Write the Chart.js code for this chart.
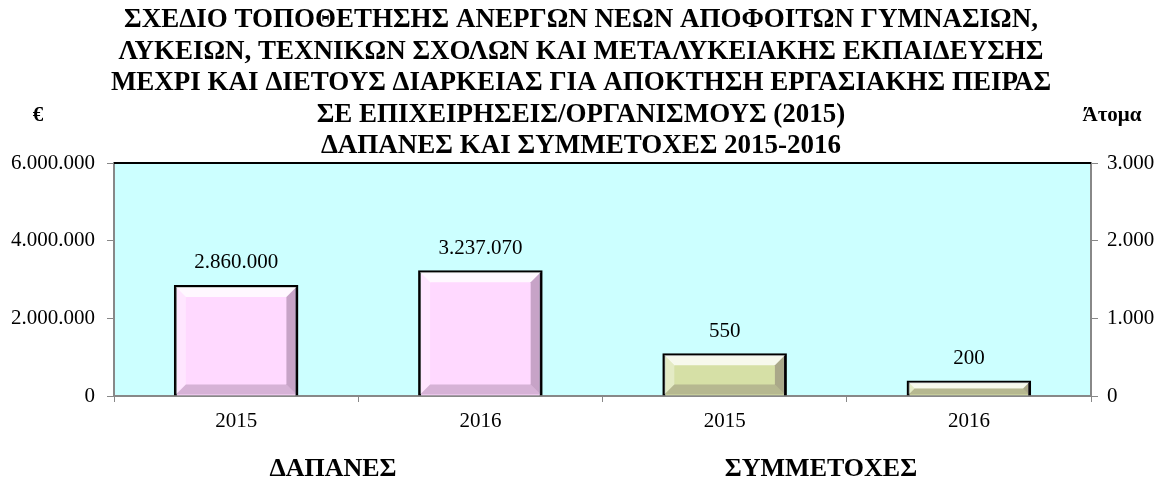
<!DOCTYPE html>
<html>
<head>
<meta charset="utf-8">
<script src="https://cdn.jsdelivr.net/npm/chart.js@4"></script>
<style>
  html, body { margin: 0; padding: 0; background: #ffffff; }
  #wrap { width: 1162px; height: 479px; position: relative; }
</style>
</head>
<body>
<div id="wrap"><canvas id="myChart"></canvas></div>
<script>
// categories and values
const etiquetas = ['2015', '2016', '2015', '2016'];
const dapanes = [2860000, 3237070, null, null];       // euro, left axis
const symmetoxes = [null, null, 550, 200];             // persons, right axis
const grupos = ['ΔΑΠΑΝΕΣ', 'ΣΥΜΜΕΤΟΧΕΣ'];
const titulo = [
  'ΣΧΕΔΙΟ ΤΟΠΟΘΕΤΗΣΗΣ ΑΝΕΡΓΩΝ ΝΕΩΝ ΑΠΟΦΟΙΤΩΝ ΓΥΜΝΑΣΙΩΝ,',
  'ΛΥΚΕΙΩΝ, ΤΕΧΝΙΚΩΝ ΣΧΟΛΩΝ ΚΑΙ ΜΕΤΑΛΥΚΕΙΑΚΗΣ ΕΚΠΑΙΔΕΥΣΗΣ',
  'ΜΕΧΡΙ ΚΑΙ ΔΙΕΤΟΥΣ ΔΙΑΡΚΕΙΑΣ ΓΙΑ ΑΠΟΚΤΗΣΗ ΕΡΓΑΣΙΑΚΗΣ ΠΕΙΡΑΣ',
  'ΣΕ ΕΠΙΧΕΙΡΗΣΕΙΣ/ΟΡΓΑΝΙΣΜΟΥΣ (2015)',
  'ΔΑΠΑΝΕΣ ΚΑΙ ΣΥΜΜΕΤΟΧΕΣ 2015-2016'
];

const SERIF = '"Liberation Serif", "DejaVu Serif", serif';

function formato(v) {
  return Math.round(v).toString().replace(/\B(?=(\d{3})+(?!\d))/g, '.');
}

/* fondo del area de grafico y borde superior */
const fondo = {
  id: 'fondo',
  beforeDraw(chart) {
    const a = chart.chartArea, c = chart.ctx;
    c.save();
    c.fillStyle = '#CCFFFF';
    c.fillRect(a.left, a.top, a.right - a.left, a.bottom - a.top);
    c.restore();
  },
  afterDraw(chart) {
    const a = chart.chartArea, c = chart.ctx;
    c.save();
    c.strokeStyle = '#000000';
    c.lineWidth = 2;
    c.beginPath();
    c.moveTo(a.left, a.top);
    c.lineTo(a.right, a.top);
    c.stroke();
    c.restore();
  }
};

/* titulo, unidades y nombres de grupo */
const textos = {
  id: 'textos',
  afterDraw(chart) {
    const c = chart.ctx, a = chart.chartArea;
    c.save();
    c.fillStyle = '#000000';
    c.textAlign = 'center';
    c.textBaseline = 'middle';
    c.font = 'bold 27px ' + SERIF;
    titulo.forEach((t, i) => c.fillText(t, 581, 20 + i * 31.6));
    c.font = 'bold 21px ' + SERIF;
    c.fillText('€', 38, 116);
    c.fillText('Άτομα', 1112, 116);
    c.font = 'bold 26px ' + SERIF;
    const w = (a.right - a.left) / 4;
    c.fillText(grupos[0], 333, 469);
    c.fillText(grupos[1], 821, 469);
    c.restore();
  }
};

/* relieve de las barras y etiquetas de valor */
const relieve = {
  id: 'relieve',
  afterDatasetsDraw(chart) {
    const c = chart.ctx;
    c.save();
    chart.data.datasets.forEach((ds, di) => {
      chart.getDatasetMeta(di).data.forEach((bar, i) => {
        const v = ds.data[i];
        if (v == null) return;
        const l = bar.x - bar.width / 2 + 2, r = bar.x + bar.width / 2 - 2;
        const t = bar.y + 2, b = bar.base - 1;
        const e = Math.min(10, (b - t) / 2);
        const poly = (pts, col) => {
          c.fillStyle = col;
          c.beginPath();
          c.moveTo(pts[0][0], pts[0][1]);
          for (let k = 1; k < pts.length; k++) c.lineTo(pts[k][0], pts[k][1]);
          c.closePath();
          c.fill();
        };
        poly([[l, t], [r, t], [r - e, t + e], [l + e, t + e]], 'rgba(255,255,255,0.8)');
        poly([[l, t], [l + e, t + e], [l + e, b - e], [l, b]], 'rgba(255,255,255,0.35)');
        poly([[r, t], [r, b], [r - e, b - e], [r - e, t + e]], 'rgba(70,40,70,0.3)');
        poly([[l, b], [l + e, b - e], [r - e, b - e], [r, b]], 'rgba(70,40,70,0.22)');

        c.fillStyle = '#000000';
        c.font = '21px ' + SERIF;
        c.textAlign = 'center';
        c.textBaseline = 'middle';
        c.fillText(formato(v), bar.x, bar.y - 22);
      });
    });
    c.restore();
  }
};

new Chart(document.getElementById('myChart'), {
  type: 'bar',
  data: {
    labels: etiquetas,
    datasets: [{
      label: 'ΔΑΠΑΝΕΣ',
      data: dapanes,
      yAxisID: 'y',
      backgroundColor: '#FFD9FF',
      borderColor: '#000000',
      borderWidth: 3,
      grouped: false,
      barPercentage: 1,
      categoryPercentage: 0.51
    }, {
      label: 'ΣΥΜΜΕΤΟΧΕΣ',
      data: symmetoxes,
      yAxisID: 'y1',
      backgroundColor: '#D6E0A6',
      borderColor: '#000000',
      borderWidth: 3,
      grouped: false,
      barPercentage: 1,
      categoryPercentage: 0.51
    }]
  },
  options: {
    responsive: true,
    maintainAspectRatio: false,
    animation: false,
    layout: { padding: { top: 163, left: 0, right: 0, bottom: 0 } },
    plugins: {
      legend: { display: false },
      title: { display: false },
      tooltip: { enabled: false }
    },
    scales: {
      x: {
        offset: true,
        grid: {
          offset: true,
          drawOnChartArea: false,
          color: '#888888',
          tickLength: 6
        },
        border: { color: '#888888', width: 2 },
        ticks: {
          color: '#000000',
          font: { family: SERIF, size: 21 },
          padding: 7
        },
        afterFit(s) { s.height = 479 - 396; }
      },
      y: {
        position: 'left',
        min: 0,
        max: 6000000,
        grid: { drawOnChartArea: false, color: '#888888', tickLength: 7 },
        border: { color: '#888888', width: 2 },
        ticks: {
          stepSize: 2000000,
          color: '#000000',
          font: { family: SERIF, size: 21 },
          padding: 12,
          callback: v => formato(v)
        },
        afterFit(s) { s.width = 114; }
      },
      y1: {
        position: 'right',
        min: 0,
        max: 3000,
        grid: { drawOnChartArea: false, color: '#888888', tickLength: 7 },
        border: { color: '#888888', width: 2 },
        ticks: {
          stepSize: 1000,
          color: '#000000',
          font: { family: SERIF, size: 21 },
          padding: 9,
          callback: v => formato(v)
        },
        afterFit(s) { s.width = 1162 - 1091; }
      }
    }
  },
  plugins: [fondo, textos, relieve]
});
</script>
</body>
</html>
